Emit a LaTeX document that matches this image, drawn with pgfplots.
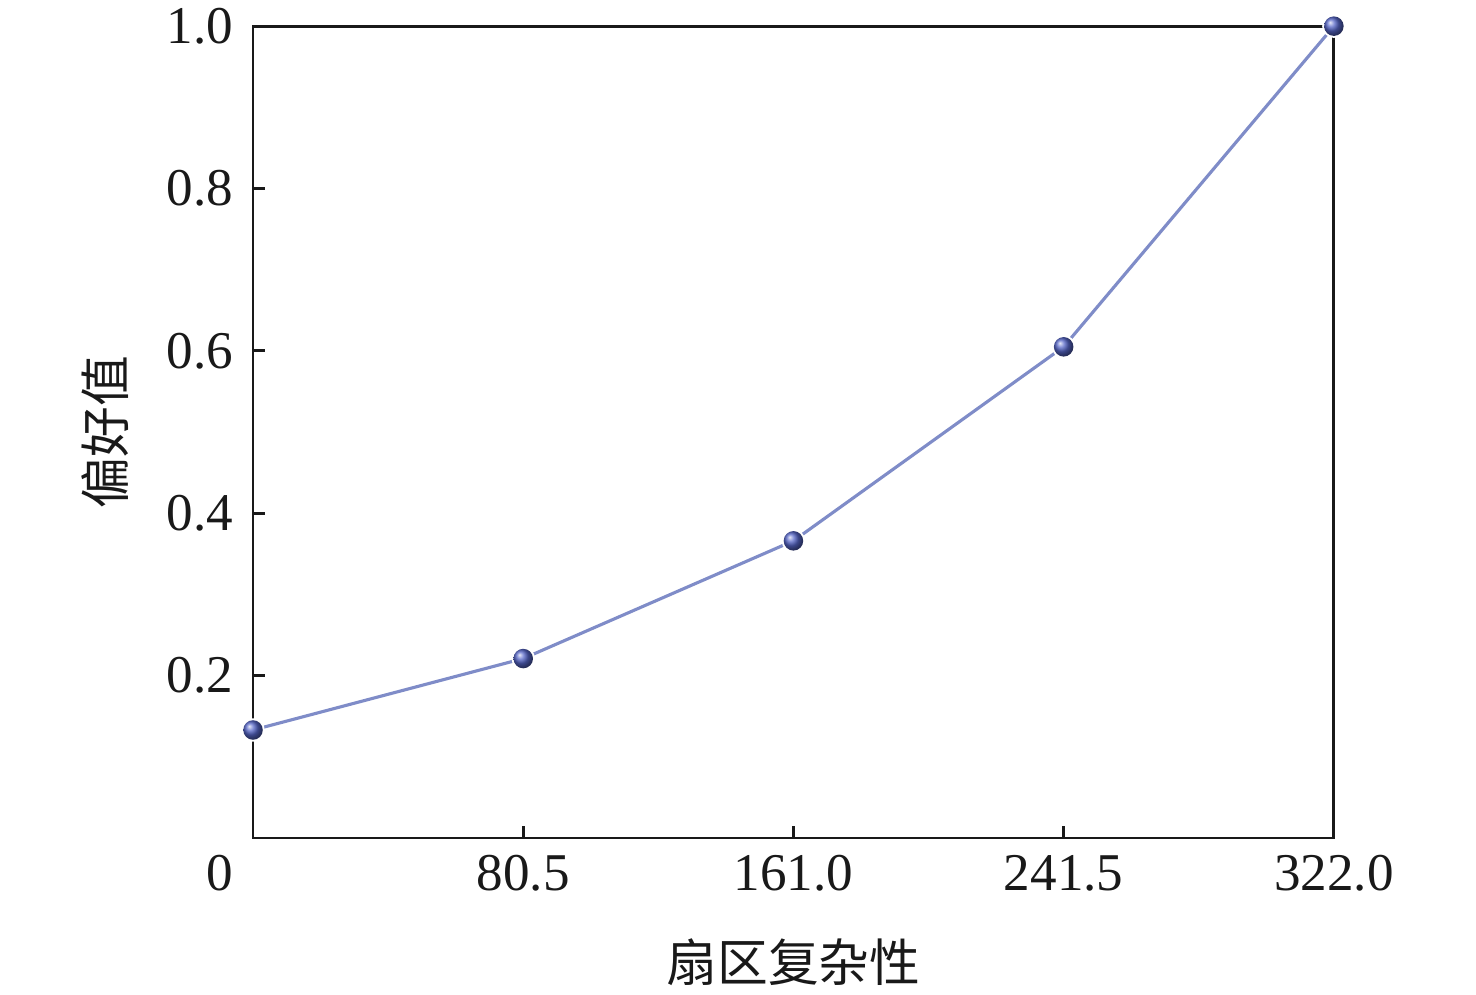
\documentclass[border=0pt]{standalone}
\usepackage{fontspec}
\setmainfont{Liberation Serif}
\newfontfamily\cjk{Noto Sans CJK SC}
\usepackage{pgfplots}
\pgfplotsset{compat=1.18}
\definecolor{linecol}{HTML}{7F8CC8}
\definecolor{markcol}{HTML}{5666C8}
\makeatletter
\pgfdeclareplotmark{ballmark}{%
  \pgfpathcircle{\pgfpointorigin}{\pgfplotmarksize+0.5pt}%
  \pgfsetfillcolor{white}\pgfusepathqfill
  \colorlet{tikz@ball}{markcol}%
  \pgfpathcircle{\pgfpointorigin}{\pgfplotmarksize}%
  \pgfshadepath{ball}{0}%
  \pgfusepath{}%
}
\makeatother
\begin{document}
\begin{tikzpicture}
\useasboundingbox (-64.8pt,-40.2pt) rectangle (313.2pt,214.6pt);
\begin{axis}[
  at={(0,0)}, anchor=south west,
  scale only axis,
  width=276.8pt, height=207.9pt,
  xmin=0, xmax=322, ymin=0, ymax=1,
  axis line style={line width=0.75pt, black!90},
  tick style={line width=0.75pt, black!90},
  tick align=inside,
  major tick length=3pt,
  xtick pos=left, ytick pos=left,
  xtick={0,80.5,161,241.5,322},
  xticklabels={\llap{0\hspace{5pt}},80.5,161.0,241.5,322.0},
  ytick={0.2,0.4,0.6,0.8,1.0},
  yticklabels={0.2,0.4,0.6,0.8,1.0},
  ticklabel style={font=\fontsize{13.6}{16}\selectfont, text=black!90},
  xticklabel style={yshift=-1pt},
  yticklabel style={xshift=-1.5pt},
  xlabel={\cjk 扇区复杂性},
  ylabel={\cjk 偏好值},
  label style={font=\fontsize{13}{15}\selectfont, text=black!90},
  xlabel style={at={(axis description cs:0.5,0)}, anchor=center, yshift=-31.8pt},
  ylabel style={at={(axis description cs:0,0.5)}, anchor=center, yshift=37.9pt},
  clip=false,
]
\addplot[color=linecol, line width=0.8pt, mark=ballmark, mark size=2.5pt]
coordinates {
  (0,0.133) (80.5,0.221) (161,0.366) (241.5,0.605) (322,1.0)
};
\end{axis}
\end{tikzpicture}
\end{document}
